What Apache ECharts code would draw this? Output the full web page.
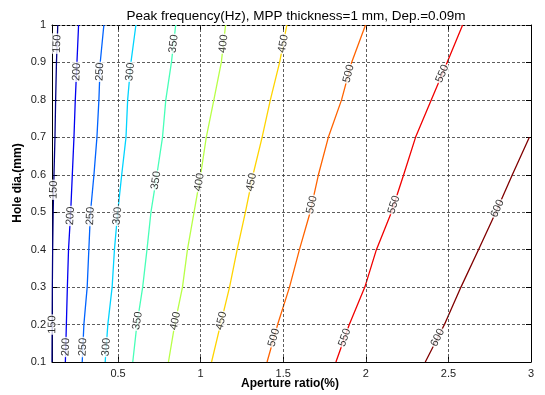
<!DOCTYPE html>
<html>
<head>
<meta charset="utf-8">
<script src="https://cdn.jsdelivr.net/npm/echarts@6/dist/echarts.min.js"></script>
<style>
html,body{margin:0;padding:0;background:#fff;}
#chart{width:545px;height:395px;}
</style>
</head>
<body>
<div id="chart"></div>
<script>
// Hole diameter (mm) at which each contour's aperture ratio is sampled
const holeDia = [0.1, 0.2, 0.3, 0.4, 0.5, 0.6, 0.7, 0.8, 0.9, 1.0];

// Peak-frequency contour levels (Hz)
const levels = [150, 200, 250, 300, 350, 400, 450, 500, 550, 600];

// Aperture ratio (%) on each contour, one value per hole diameter
const ratio150 = [0.100, 0.101, 0.102, 0.104, 0.107, 0.112, 0.118, 0.122, 0.127, 0.135];
const ratio200 = [0.181, 0.187, 0.193, 0.200, 0.213, 0.223, 0.233, 0.241, 0.251, 0.261];
const ratio250 = [0.283, 0.293, 0.313, 0.323, 0.333, 0.354, 0.372, 0.384, 0.392, 0.414];
const ratio300 = [0.422, 0.438, 0.464, 0.478, 0.498, 0.522, 0.548, 0.558, 0.578, 0.608];
const ratio350 = [0.589, 0.614, 0.649, 0.675, 0.699, 0.735, 0.769, 0.789, 0.823, 0.849];
const ratio400 = [0.805, 0.843, 0.890, 0.920, 0.960, 1.000, 1.034, 1.080, 1.125, 1.151];
const ratio450 = [1.066, 1.120, 1.175, 1.221, 1.271, 1.317, 1.372, 1.422, 1.478, 1.522];
const ratio500 = [1.402, 1.466, 1.538, 1.598, 1.663, 1.713, 1.773, 1.853, 1.914, 1.998];
const ratio550 = [1.819, 1.900, 1.994, 2.064, 2.155, 2.229, 2.301, 2.396, 2.492, 2.586];
const ratio600 = [2.360, 2.476, 2.576, 2.682, 2.787, 2.887, 2.990];

const ratios = [ratio150, ratio200, ratio250, ratio300, ratio350,
                ratio400, ratio450, ratio500, ratio550, ratio600];

// Tick values
const xTicks = [0.5, 1, 1.5, 2, 2.5, 3];
const yTicks = [0.1, 0.2, 0.3, 0.4, 0.5, 0.6, 0.7, 0.8, 0.9, 1];

// Jet colours for the contour levels
const levelColors = ['#000080', '#0000f1', '#0063ff', '#00d4ff', '#47ffb8',
                     '#b8ff47', '#ffd400', '#ff6300', '#f10000', '#800000'];

// Hole diameters where the inline level labels sit on each contour
const labelRows = [
  [0.95, 0.56, 0.20],
  [0.875, 0.49, 0.14],
  [0.875, 0.49, 0.14],
  [0.875, 0.49, 0.14],
  [0.95, 0.585, 0.21],
  [0.95, 0.58, 0.21],
  [0.95, 0.58, 0.21],
  [0.87, 0.52, 0.165],
  [0.87, 0.52, 0.165],
  [0.51, 0.165]
];

const FONT = 'Arial, "Liberation Sans", Helvetica, sans-serif';
const X_MIN = 0.1, X_MAX = 3, Y_MIN = 0.1, Y_MAX = 1;

const chart = echarts.init(document.getElementById('chart'), null, {renderer: 'canvas'});

const gridDash = {color: '#333', width: 0.8, type: [3, 2]};

const contourSeries = levels.map((lv, i) => ({
  name: String(lv),
  type: 'line',
  data: ratios[i].map((x, k) => [x, holeDia[k]]),
  showSymbol: false,
  symbol: 'none',
  clip: true,
  silent: true,
  z: 3,
  lineStyle: {color: levelColors[i], width: 1.3},
  itemStyle: {color: levelColors[i]}
}));

const option = {
  backgroundColor: '#fff',
  animation: false,
  title: {
    text: 'Peak frequency(Hz), MPP thickness=1 mm, Dep.=0.09m',
    left: 291, top: 4, textAlign: 'center',
    textStyle: {fontFamily: FONT, fontSize: 13.5, fontWeight: 'normal', color: '#000'}
  },
  grid: {left: 52, right: 14, top: 25, bottom: 33, containLabel: false},
  xAxis: [{
    type: 'value', min: X_MIN, max: X_MAX, position: 'bottom',
    axisLine: {show: true, lineStyle: {color: '#000', width: 1}},
    axisTick: {show: true, inside: true, length: 5, customValues: xTicks, lineStyle: {color: '#000'}},
    axisLabel: {customValues: xTicks, fontFamily: FONT, fontSize: 11, color: '#222', margin: 6,
                formatter: v => String(v)},
    splitLine: {show: false}
  }, {
    type: 'value', min: X_MIN, max: X_MAX, position: 'top',
    axisLine: {show: true, lineStyle: {color: '#000', width: 1, type: [3, 2]}},
    axisTick: {show: true, inside: true, length: 5, customValues: xTicks, lineStyle: {color: '#000'}},
    axisLabel: {show: false},
    splitLine: {show: false}
  }],
  yAxis: [{
    type: 'value', min: Y_MIN, max: Y_MAX, interval: 0.1, position: 'left',
    axisLine: {show: true, lineStyle: {color: '#000', width: 1}},
    axisTick: {show: true, inside: true, length: 5, lineStyle: {color: '#000'}},
    axisLabel: {fontFamily: FONT, fontSize: 11, color: '#222', margin: 6,
                formatter: v => String(Math.round(v * 10) / 10)},
    splitLine: {show: true, showMinLine: false, showMaxLine: false, lineStyle: gridDash}
  }, {
    type: 'value', min: Y_MIN, max: Y_MAX, interval: 0.1, position: 'right',
    axisLine: {show: true, lineStyle: {color: '#000', width: 1}},
    axisTick: {show: true, inside: true, length: 5, lineStyle: {color: '#000'}},
    axisLabel: {show: false},
    splitLine: {show: false}
  }],
  graphic: [{
    type: 'text', x: 290, y: 384,
    style: {text: 'Aperture ratio(%)', font: 'bold 12px ' + FONT, fill: '#000',
            align: 'center', verticalAlign: 'middle'}
  }, {
    type: 'text', x: 18, y: 183, rotation: Math.PI / 2,
    style: {text: 'Hole dia.(mm)', font: 'bold 12px ' + FONT, fill: '#000',
            align: 'center', verticalAlign: 'middle'}
  }],
  series: [{
    // vertical dotted grid lines at the x ticks
    type: 'line', data: [], silent: true, z: 1,
    markLine: {
      silent: true, symbol: 'none', animation: false,
      label: {show: false},
      lineStyle: gridDash,
      data: xTicks.filter(v => v < X_MAX).map(v => ({xAxis: v}))
    }
  }].concat(contourSeries)
};

chart.setOption(option);

// x on a contour at hole diameter y (linear between samples)
function ratioAt(i, y) {
  const xs = ratios[i];
  for (let k = 0; k < xs.length - 1; k++) {
    const y0 = holeDia[k], y1 = holeDia[k + 1];
    if (y >= y0 && y <= y1) {
      const t = (y - y0) / (y1 - y0);
      return {x: xs[k] + t * (xs[k + 1] - xs[k]), k: k};
    }
  }
  return {x: xs[xs.length - 1], k: xs.length - 2};
}

const labelData = [];
levels.forEach((lv, i) => {
  labelRows[i].forEach(y => {
    const r = ratioAt(i, y);
    const p0 = chart.convertToPixel({gridIndex: 0}, [ratios[i][r.k], holeDia[r.k]]);
    const p1 = chart.convertToPixel({gridIndex: 0}, [ratios[i][r.k + 1], holeDia[r.k + 1]]);
    const ang = Math.atan2(p0[1] - p1[1], p1[0] - p0[0]) * 180 / Math.PI;
    labelData.push({
      value: [r.x, y],
      label: {
        show: true, position: 'inside', formatter: String(lv), rotate: ang,
        fontFamily: FONT, fontSize: 11, color: '#000',
        backgroundColor: '#fff', padding: [0, 1, 0, 1]
      }
    });
  });
});

chart.setOption({
  series: option.series.concat([{
    type: 'scatter', data: labelData, symbolSize: 1, silent: true, z: 6,
    itemStyle: {color: 'rgba(0,0,0,0)'},
    clip: false
  }])
});
</script>
</body>
</html>
